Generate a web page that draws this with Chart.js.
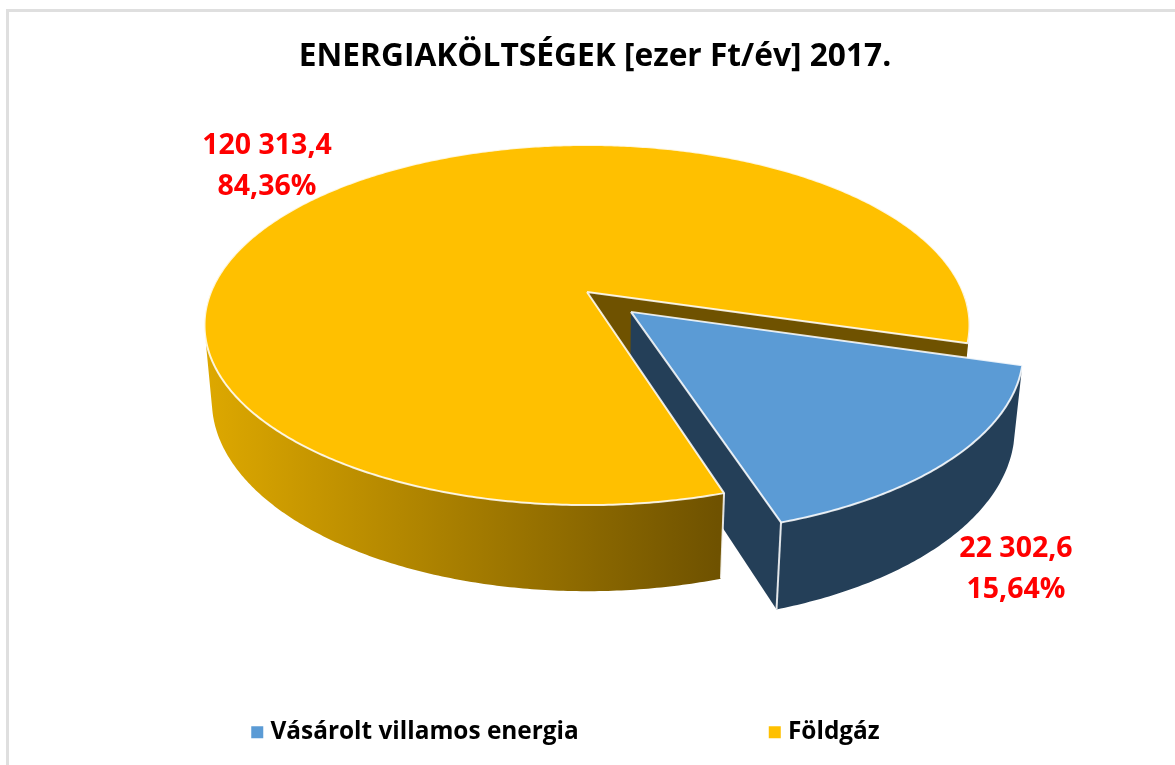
<!DOCTYPE html>
<html>
<head>
<meta charset="utf-8">
<title>Energiaköltségek 2017</title>
<script src="https://cdn.jsdelivr.net/npm/chart.js@4/dist/chart.umd.min.js"></script>
<style>
	html, body { margin: 0; padding: 0; background: #fff; overflow: hidden; }
	#wrap { position: relative; width: 1175px; height: 765px; overflow: hidden; }
	#frame { position: absolute; left: 6px; top: 9px; width: 1300px; height: 900px; border: 3px solid #dfdfdf; }
	canvas { position: absolute; left: 0; top: 0; }
</style>
</head>
<body>
<div id="wrap">
	<div id="frame"></div>
	<canvas id="myChart" width="1175" height="765"></canvas>
</div>
<script>
// Datos del gráfico
const categories = ['Vásárolt villamos energia', 'Földgáz'];
const values = [22302.6, 120313.4];
const valueLabels = ['22 302,6', '120 313,4'];
const percentLabels = ['15,64%', '84,36%'];
const topColors = ['#5B9BD5', '#FFC000'];
const explode = [0.16, 0]; // separación de cada porción, en radios

// Proyección del disco en perspectiva
const CX = 587, CY = 292; // centro de la cara superior
const A = 376, B = 174;   // semiejes
const K = 0.1834;         // perspectiva
const D = 76, M = 0.019;  // grosor
const LABEL_FONT = 'bold 28.5px "Open Sans"';
const EDGE = 'rgba(255,255,255,0.85)';

function proj(u, v, z) {
	const w = 1 - K * v + M * z;
	return [CX + A * u / w, CY + (B * v + D * z) / w];
}

// Puntos del borde exterior entre dos ángulos
function rim(from, to, ox, oy, z) {
	const n = Math.max(2, Math.ceil(Math.abs(to - from) / 0.01));
	const pts = [];
	for (let i = 0; i <= n; i++) {
		const a = from + (to - from) * i / n;
		pts.push(proj(Math.cos(a) + ox, Math.sin(a) + oy, z));
	}
	return pts;
}

function poly(ctx, pts, fill, close = true) {
	ctx.beginPath();
	pts.forEach((p, i) => i ? ctx.lineTo(p[0], p[1]) : ctx.moveTo(p[0], p[1]));
	if (close) ctx.closePath();
	if (fill) { ctx.fillStyle = fill; ctx.fill(); }
}

function stroke(ctx, pts) {
	poly(ctx, pts, null, false);
	ctx.strokeStyle = EDGE;
	ctx.lineWidth = 2;
	ctx.lineJoin = 'round';
	ctx.stroke();
}

// Pared exterior: un cuadrilátero por tramo, todos con la misma orientación
function wall(ctx, a, from, to, fill) {
	const up = rim(from, to, a.ox, a.oy, 0);
	const low = rim(from, to, a.ox, a.oy, 1);
	ctx.beginPath();
	for (let i = 0; i < up.length - 1; i++) {
		let q = [up[i], up[i + 1], low[i + 1], low[i]];
		let area = 0;
		q.forEach((p, j) => {
			const n = q[(j + 1) % 4];
			area += p[0] * n[1] - n[0] * p[1];
		});
		if (area < 0) q.reverse();
		q.forEach((p, j) => j ? ctx.lineTo(p[0], p[1]) : ctx.moveTo(p[0], p[1]));
		ctx.closePath();
	}
	ctx.fillStyle = fill;
	ctx.fill();
}

const pie3d = {
	id: 'pie3d',
	afterLayout(chart) {
		// la leyenda de la referencia no está centrada como el título
		chart.legend.left -= 27;
		chart.legend.right -= 27;
	},
	beforeDatasetsDraw(chart) {
		const ctx = chart.ctx;
		const arcs = chart.getDatasetMeta(0).data.map((el, i) => {
			const p = el.getProps(['startAngle', 'endAngle']);
			const mid = (p.startAngle + p.endAngle) / 2;
			return {
				start: p.startAngle, end: p.endAngle, color: el.options.backgroundColor,
				ox: explode[i] * Math.cos(mid), oy: explode[i] * Math.sin(mid)
			};
		});
		const blue = arcs[0], yellow = arcs[1];

		const grad = ctx.createLinearGradient(207, 0, 718, 0);
		grad.addColorStop(0, '#DDA800');
		grad.addColorStop(1, '#6F5200');

		const apex = (a, z) => proj(a.ox, a.oy, z);
		const edge = (a, ang, z) => rim(ang, ang, a.ox, a.oy, z)[0];
		const TURN = Math.PI * 2;

		ctx.save();
		// Paredes traseras del gas: cara del corte derecho y tramo oculto por el azul
		poly(ctx, [apex(yellow, 0), edge(yellow, yellow.end, 0), edge(yellow, yellow.end, 1), apex(yellow, 1)], '#6F5200');
		wall(ctx, yellow, TURN, yellow.end, '#6F5200');

		// Porción azul separada
		wall(ctx, blue, blue.start, blue.end, '#243F58');
		poly(ctx, [apex(blue, 0), edge(blue, blue.end, 0), edge(blue, blue.end, 1), apex(blue, 1)], '#243F58');
		const blueTop = [apex(blue, 0)].concat(rim(blue.start, blue.end, blue.ox, blue.oy, 0));
		poly(ctx, blueTop, blue.color);
		stroke(ctx, [edge(blue, blue.end, 0), edge(blue, blue.end, 1)]);
		stroke(ctx, blueTop.concat([apex(blue, 0)]));

		// Porción amarilla
		wall(ctx, yellow, yellow.start, Math.PI * 1.1, grad);
		const yellowTop = [apex(yellow, 0)].concat(rim(yellow.start, yellow.end, 0, 0, 0));
		poly(ctx, yellowTop, yellow.color);
		stroke(ctx, [edge(yellow, yellow.start, 0), edge(yellow, yellow.start, 1)]);
		stroke(ctx, yellowTop.concat([apex(yellow, 0)]));
		ctx.restore();

		return false; // el dibujo plano por defecto no se usa
	},
	afterDraw(chart, args, opts) {
		const ctx = chart.ctx;
		ctx.save();
		ctx.font = LABEL_FONT;
		ctx.fillStyle = '#FF0000';
		ctx.textAlign = 'center';
		ctx.textBaseline = 'middle';
		opts.labelAt.forEach((p, i) => {
			ctx.fillText(valueLabels[i], p.x, p.y);
			ctx.fillText(percentLabels[i], p.x, p.y + 41);
		});
		ctx.restore();
	}
};

const myChart = new Chart(document.getElementById('myChart'), {
	type: 'pie',
	data: {
		labels: categories,
		datasets: [{ data: values, backgroundColor: topColors, borderWidth: 0 }]
	},
	options: {
		responsive: false,
		animation: false,
		rotation: 106.2,
		layout: { padding: { left: 15, bottom: 10.5 } },
		plugins: {
			tooltip: { enabled: false },
			title: {
				display: true,
				text: 'ENERGIAKÖLTSÉGEK [ezer Ft/év] 2017.',
				color: '#000',
				font: { family: 'Open Sans', size: 31.7, weight: 'bold' },
				padding: { top: 38, bottom: 10 }
			},
			legend: {
				position: 'bottom',
				maxHeight: 500,
				labels: {
					color: '#000',
					font: { family: 'Open Sans', size: 24.4, weight: 'bold' },
					usePointStyle: true,
					pointStyle: 'rect',
					boxWidth: 2,
					boxHeight: 12,
					padding: 195
				}
			},
			pie3d: { labelAt: [{ x: 1016, y: 549 }, { x: 267, y: 146 }] }
		}
	},
	plugins: [pie3d]
});
</script>
</body>
</html>
